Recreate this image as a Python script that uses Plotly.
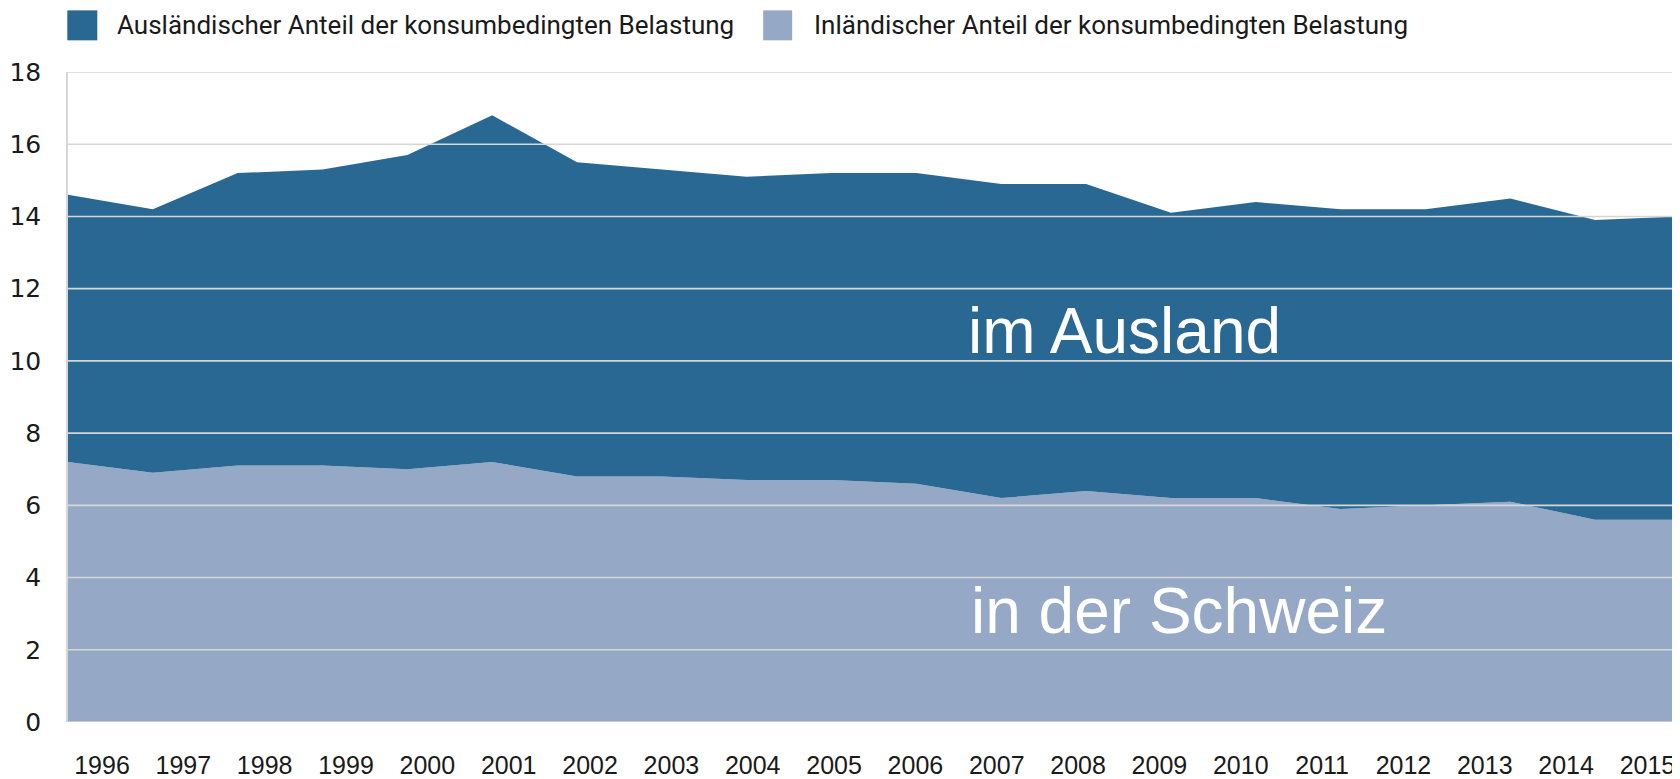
import plotly.graph_objects as go

# ---------------- data ----------------
years = [1996, 1997, 1998, 1999, 2000, 2001, 2002, 2003, 2004, 2005,
         2006, 2007, 2008, 2009, 2010, 2011, 2012, 2013, 2014, 2015]
inland = [7.2, 6.9, 7.1, 7.1, 7.0, 7.2, 6.8, 6.8, 6.7, 6.7,
          6.6, 6.2, 6.4, 6.2, 6.2, 5.9, 6.0, 6.1, 5.6, 5.6]
ausland = [7.4, 7.3, 8.1, 8.2, 8.7, 9.6, 8.7, 8.5, 8.4, 8.5,
           8.6, 8.7, 8.5, 7.9, 8.2, 8.3, 8.2, 8.4, 8.3, 8.4]
series_names = ["Ausländischer Anteil der konsumbedingten Belastung",
                "Inländischer Anteil der konsumbedingten Belastung"]
area_labels = ["im Ausland", "in der Schweiz"]
y_ticks = [0, 2, 4, 6, 8, 10, 12, 14, 16, 18]
x_tick_labels = [str(y) for y in years]

# ---------------- styling ----------------
DARK = "#296892"
LIGHT = "#95a9c7"
GRID = "#d6d6d6"
TXT = "#1a1a1a"

OFF = 8  # default body margin of the html page
W, H = 1680 - OFF, 779 - OFF
ML, MR, MT, MB = 67.7 - OFF, 0, 71.7 - OFF, 56.7
PW, PH = W - ML - MR, H - MT - MB


def px_x(p):
    """page pixel -> paper x"""
    return (p - OFF - ML) / PW


def px_y(p):
    """page pixel -> paper y"""
    return (H - MB - (p - OFF)) / PH


fig = go.Figure()
fig.add_trace(go.Scatter(x=years, y=inland, name=series_names[1], stackgroup="one",
                         mode="none", fillcolor=LIGHT, showlegend=False))
fig.add_trace(go.Scatter(x=years, y=ausland, name=series_names[0], stackgroup="one",
                         mode="none", fillcolor=DARK, showlegend=False))
# invisible trace carrying the category labels axis
fig.add_trace(go.Scatter(x=x_tick_labels, y=[0] * len(years), xaxis="x2", mode="markers",
                         marker=dict(opacity=0), hoverinfo="skip", showlegend=False))

shapes = []
for v in y_ticks:
    shapes.append(dict(type="line", xref="paper", x0=0, x1=1, yref="y", y0=v, y1=v,
                       line=dict(color=GRID, width=1.6), layer="above"))

annotations = []
leg = [(67, 97, 115, DARK, series_names[0]), (763, 792, 812, LIGHT, series_names[1])]
for x0, x1, tx, col, name in leg:
    shapes.append(dict(type="rect", xref="paper", yref="paper",
                       x0=px_x(x0), x1=px_x(x1), y0=px_y(40), y1=px_y(10),
                       fillcolor=col, line=dict(width=0), layer="above"))
    annotations.append(dict(text=name, xref="paper", yref="paper", x=px_x(tx), y=px_y(25),
                            xanchor="left", yanchor="middle", showarrow=False,
                            font=dict(family="Roboto", size=26, color=TXT)))

annotations.append(dict(text=area_labels[0], xref="paper", yref="y", x=px_x(966), y=10.84,
                        xanchor="left", yanchor="middle", showarrow=False,
                        font=dict(family="Liberation Sans", size=64, color="white")))
annotations.append(dict(text=area_labels[1], xref="paper", yref="y", x=px_x(969), y=3.08,
                        xanchor="left", yanchor="middle", showarrow=False,
                        font=dict(family="Liberation Sans", size=64, color="white")))

fig.update_layout(
    width=W, height=H, autosize=False,
    margin=dict(l=ML, r=MR, t=MT, b=MB, pad=0, autoexpand=False),
    plot_bgcolor="white", paper_bgcolor="white",
    showlegend=False,
    xaxis=dict(range=[years[0], years[-1]], visible=False, showgrid=False, zeroline=False,
               automargin=False),
    xaxis2=dict(overlaying="x", anchor="y", side="bottom", type="category",
                range=[-0.418, 19.4], showgrid=False, zeroline=False, showline=False,
                ticks="", ticklabelstandoff=26, automargin=False,
                tickfont=dict(family="Liberation Sans", size=25, color=TXT)),
    yaxis=dict(range=[0, 18], tickvals=y_ticks, showgrid=False, zeroline=False,
               showline=True, linecolor=GRID, linewidth=1.6, layer="above traces",
               ticks="", ticklabelstandoff=20, automargin=False,
               tickfont=dict(family="DejaVu Sans", size=25, color=TXT)),
    shapes=shapes,
    annotations=annotations,
)

fig.write_html("out.html")
